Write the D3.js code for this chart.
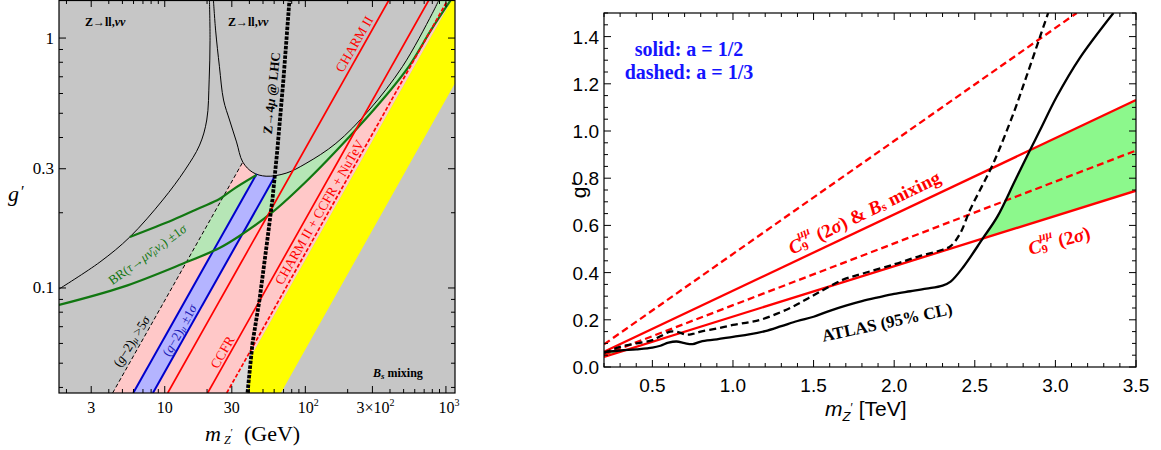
<!DOCTYPE html>
<html><head><meta charset="utf-8">
<script src="https://cdn.jsdelivr.net/npm/d3@7"></script>
<style>body{margin:0;background:#fff}svg{display:block}</style>
</head><body>
<svg id="chart" width="1161" height="450"></svg>
<script>
// ================= LEFT PANEL DATA (m_Z' in GeV, g') =================
const leftXTickValues = [3, 10, 30, 100, 300, 1000];
const leftXTickLabels = ["3", "10", "30", "10^2", "3×10^2", "10^3"];
const leftYTickValues = [0.1, 0.3, 1];
const leftYTickLabels = ["0.1", "0.3", "1"];

// Z -> ll, nu nu exclusion curves
const zCurveLeft = [[1.77,0.099],[3.46,0.127],[5.65,0.160],[9.68,0.225],[13.9,0.296],[17.7,0.373],[19.9,0.47],[20.7,0.68],[21.0,0.98],[20.8,1.42]];
const zCurveU = [[22.2,1.42],[23.0,1.076],[24.5,0.768],[26.2,0.565],[28.9,0.470],[32.4,0.384],[35.9,0.319],[42.3,0.290],[52.6,0.280],[73.0,0.288],[101,0.315],[165,0.379],[284,0.515],[490,0.768],[800,1.255],[891,1.42]];
// BR(tau -> mu nu nu) +-1 sigma band
const brUpper = [[5.65,0.160],[11.4,0.187],[17.7,0.209],[24.5,0.227],[30.3,0.247],[44.9,0.283]];
const brLower = [[1.77,0.0855],[5.04,0.101],[13.4,0.125],[24.5,0.1445],[34.0,0.1614],[58.3,0.201],[107,0.275],[205,0.402],[352,0.565],[547,0.773],[783,1.076],[1084,1.42]];
// (g-2)_mu
const g2Dashed5Sigma = [[4.26,0.038],[35.9,0.319]];
const g2BandLeft = [[5.97,0.038],[45.0,0.286]];
const g2BandRight = [[8.24,0.038],[61.0,0.281]];
// neutrino trident
const charmII = [[10.5,0.038],[393,1.42]];
const ccfr = [[20.2,0.038],[756,1.42]];
const combinedDashed = [[27.6,0.038],[1030,1.42]];
// LHC Z -> 4 mu
const lhcZ4mu = [[38.8,0.0381],[42.1,0.0603],[47.2,0.0895],[53.7,0.156],[58.3,0.225],[63.2,0.356],[69.8,0.679],[77.1,1.42]];
const lhcGapPatch = [[27.6,0.038],[41.7,0.0572],[38.8,0.038]];
// yellow (B_s mixing allowed) band
const yellowLeft = [[38.8,0.0381],[41.2,0.0535],[1100,1.42]];
const yellowRight = [[67,0.038],[1160,0.66]];

// ================= RIGHT PANEL DATA (m_Z' in TeV, g') =================
const rightXTickValues = [0.5, 1.0, 1.5, 2.0, 2.5, 3.0, 3.5];
const rightXTickLabels = ["0.5", "1.0", "1.5", "2.0", "2.5", "3.0", "3.5"];
const rightYTickValues = [0, 0.2, 0.4, 0.6, 0.8, 1.0, 1.2, 1.4];
const rightYTickLabels = ["0.0", "0.2", "0.4", "0.6", "0.8", "1.0", "1.2", "1.4"];

const c9BsSolid = [[0.2,0.065],[3.5,1.131]];
const c9Solid = [[0.2,0.043],[3.5,0.747]];
const c9BsDashed = [[0.2,0.096],[3.132,1.5]];
const c9Dashed = [[0.2,0.052],[3.5,0.917]];
const atlasSolid = [[0.2,0.063],[0.3,0.07],[0.4,0.075],[0.5,0.082],[0.55,0.09],[0.6,0.103],[0.65,0.108],[0.7,0.101],[0.75,0.097],[0.8,0.108],[0.9,0.117],[1.0,0.128],[1.1,0.138],[1.2,0.152],[1.3,0.173],[1.4,0.195],[1.5,0.213],[1.6,0.238],[1.7,0.26],[1.8,0.279],[1.9,0.295],[2.0,0.31],[2.1,0.321],[2.2,0.332],[2.3,0.345],[2.35,0.362],[2.43,0.425],[2.55,0.545],[2.64,0.637],[2.75,0.79],[2.843,0.919],[2.905,1.004],[3.008,1.145],[3.15,1.308],[3.36,1.5]];
const atlasDashed = [[0.2,0.06],[0.3,0.085],[0.4,0.1],[0.5,0.114],[0.55,0.13],[0.61,0.15],[0.66,0.148],[0.71,0.137],[0.75,0.14],[0.8,0.15],[0.9,0.163],[1.0,0.178],[1.1,0.19],[1.17,0.2],[1.27,0.225],[1.37,0.255],[1.45,0.285],[1.54,0.319],[1.68,0.369],[1.8,0.395],[2.0,0.435],[2.15,0.468],[2.3,0.497],[2.35,0.512],[2.41,0.567],[2.47,0.665],[2.54,0.76],[2.615,0.863],[2.74,1.075],[2.82,1.23],[2.905,1.4],[2.955,1.5]];

// ================= DRAWING =================
const SERIF = "'Liberation Serif','Times New Roman',serif";
const SANS = "'Liberation Sans',Arial,Helvetica,sans-serif";
const svg = d3.select("#chart");
const defs = svg.append("defs");

function richText(parent, x, y, angle, parts, opt) {
  const t = parent.append("text")
    .attr("transform", `translate(${x},${y}) rotate(${angle})`)
    .attr("text-anchor", opt.anchor || "middle")
    .attr("font-family", opt.family || SERIF)
    .attr("font-size", opt.size || 13)
    .attr("fill", opt.fill || "#000")
    .attr("font-weight", opt.weight || "normal");
  if (opt.center) t.attr("dominant-baseline", "central");
  parts.forEach(p => {
    const s = t.append("tspan").text(p.t);
    if (p.dx !== undefined) s.attr("dx", p.dx);
    if (p.dy !== undefined) s.attr("dy", p.dy);
    if (p.size) s.attr("font-size", p.size);
    if (p.it) s.attr("font-style", "italic");
  });
  return t;
}

// ---------- LEFT PANEL ----------
const L = {x0: 59, x1: 455, y0: 0, y1: 393};
const xL = d3.scaleLog().domain([1.77, 1160]).range([L.x0, L.x1]);
const yL = d3.scaleLog().domain([0.038, 1.42]).range([L.y1, L.y0]);
const lineL = d3.line().x(d => xL(d[0])).y(d => yL(d[1]));
const curveL = d3.line().x(d => xL(d[0])).y(d => yL(d[1])).curve(d3.curveCatmullRom.alpha(0.5));

function joinPath(parts) {
  let d = "";
  parts.forEach((p, i) => {
    let s = (p.curve ? curveL : lineL)(p.pts);
    if (i > 0) s = "L" + s.slice(1);
    d += s;
  });
  return d + "Z";
}

defs.append("clipPath").attr("id", "clipL").append("rect")
  .attr("x", L.x0).attr("y", L.y0).attr("width", L.x1 - L.x0).attr("height", L.y1 - L.y0);

const uRight = zCurveU.filter(d => d[0] >= 35.9);
const pinkPath = joinPath([
  {pts: g2Dashed5Sigma},
  {pts: uRight, curve: true},
  {pts: [yellowLeft[2], yellowLeft[1], yellowLeft[0]]}
]);
defs.append("clipPath").attr("id", "clipPink").append("path").attr("d", pinkPath);

const gL = svg.append("g").attr("clip-path", "url(#clipL)");
gL.append("rect").attr("x", L.x0).attr("y", L.y0).attr("width", L.x1 - L.x0).attr("height", L.y1 - L.y0).attr("fill", "#c6c6c6");
gL.append("path").attr("d", pinkPath).attr("fill", "#ffc8c8");
gL.append("path").attr("d", lineL(lhcGapPatch) + "Z").attr("fill", "#dcdcdc");

const inPink = gL.append("g").attr("clip-path", "url(#clipPink)");
const greenPath = joinPath([
  {pts: brUpper, curve: true},
  {pts: zCurveU.filter(d => d[0] > 44.9), curve: true},
  {pts: brLower.slice().reverse(), curve: true}
]);
inPink.append("path").attr("d", greenPath).attr("fill", "#b6e6b6");
inPink.append("path").attr("d", lineL(g2BandLeft.concat(g2BandRight.slice().reverse())) + "Z").attr("fill", "#b4b4ff");

// yellow band
gL.append("path").attr("d", lineL(yellowLeft.concat([[1160,1.42]], yellowRight.slice().reverse())) + "Z").attr("fill", "#ffff00");

// curves
gL.append("path").attr("d", curveL(zCurveLeft)).attr("fill", "none").attr("stroke", "#000").attr("stroke-width", 1);
gL.append("path").attr("d", curveL(zCurveU)).attr("fill", "none").attr("stroke", "#000").attr("stroke-width", 1);
gL.append("path").attr("d", lineL(g2Dashed5Sigma)).attr("fill", "none").attr("stroke", "#000").attr("stroke-width", 1).attr("stroke-dasharray", "4,2.5");
[g2BandLeft, g2BandRight].forEach(s => gL.append("path").attr("d", lineL(s)).attr("fill", "none").attr("stroke", "#0000cc").attr("stroke-width", 2));
gL.append("path").attr("d", curveL(brUpper)).attr("fill", "none").attr("stroke", "#117711").attr("stroke-width", 2.2);
gL.append("path").attr("d", curveL(brLower)).attr("fill", "none").attr("stroke", "#117711").attr("stroke-width", 2.2);
[charmII, ccfr].forEach(s => gL.append("path").attr("d", lineL(s)).attr("fill", "none").attr("stroke", "#ff0000").attr("stroke-width", 1.7));
gL.append("path").attr("d", lineL(combinedDashed)).attr("fill", "none").attr("stroke", "#ff0000").attr("stroke-width", 1.7).attr("stroke-dasharray", "4,2");
gL.append("path").attr("d", lineL(lhcZ4mu)).attr("fill", "none").attr("stroke", "#000").attr("stroke-width", 3.8).attr("stroke-dasharray", "3.5,1.3");

// labels inside left panel
richText(gL, 85, 26, 0, [{t: "Z→ll,"}, {t: "νν", it: true}], {anchor: "start", size: 12, weight: "bold"});
richText(gL, 228, 26, 0, [{t: "Z→ll,"}, {t: "νν", it: true}], {anchor: "start", size: 12, weight: "bold"});
richText(gL, 354, 44, -60, [{t: "CHARM II"}], {size: 13.5, fill: "#ff0000", center: true});
richText(gL, 319, 212, -60, [{t: "CHARM II + CCFR + NuTeV"}], {size: 13.5, fill: "#ff0000", center: true});
richText(gL, 222, 352, -60, [{t: "CCFR"}], {size: 13.5, fill: "#ff0000", center: true});
richText(gL, 179, 330, -61, [{t: "("}, {t: "g", it: true}, {t: "−2)"}, {t: "μ", it: true, size: 9, dy: 3}, {t: " ±1", dy: -3}, {t: "σ", it: true}], {size: 13, fill: "#1a1ab4", center: true});
richText(gL, 131, 341, -58, [{t: "("}, {t: "g", it: true}, {t: "−2)"}, {t: "μ", it: true, size: 9, dy: 3}, {t: " >5", dy: -3}, {t: "σ", it: true}], {size: 13, fill: "#000", center: true});
richText(gL, 147, 254, -36, [{t: "BR("}, {t: "τ", it: true}, {t: "→"}, {t: "μν̄", it: true}, {t: "μ", it: true, size: 9, dy: 3}, {t: "ν", it: true, dy: -3}, {t: "τ", it: true, size: 9, dy: 3}, {t: ") ±1", dy: -3}, {t: "σ", it: true}], {size: 13, fill: "#117711", center: true});
richText(gL, 271, 93, -84, [{t: "Z→4"}, {t: "μ", it: true}, {t: " @ LHC"}], {size: 13, weight: "bold", center: true});
richText(gL, 373, 377, 0, [{t: "B", it: true}, {t: "s", it: true, size: 9, dy: 2}, {t: " mixing", dy: -2}], {anchor: "start", size: 12, weight: "bold"});

// frame, ticks
const axL = svg.append("g");
axL.append("rect").attr("x", L.x0).attr("y", L.y0 + 0.5).attr("width", L.x1 - L.x0).attr("height", L.y1 - L.y0 - 0.5).attr("fill", "none").attr("stroke", "#000").attr("stroke-width", 1.2);
xL.ticks().filter(v => v >= 1.77 && v <= 1160).forEach(v => {
  const x = xL(v), len = leftXTickValues.includes(v) ? 7 : 4;
  axL.append("line").attr("x1", x).attr("x2", x).attr("y1", L.y1).attr("y2", L.y1 - len).attr("stroke", "#000");
  axL.append("line").attr("x1", x).attr("x2", x).attr("y1", L.y0).attr("y2", L.y0 + len).attr("stroke", "#000");
});
yL.ticks().filter(v => v >= 0.038 && v <= 1.42).forEach(v => {
  const y = yL(v), len = leftYTickValues.includes(v) ? 7 : 4;
  axL.append("line").attr("x1", L.x0).attr("x2", L.x0 + len).attr("y1", y).attr("y2", y).attr("stroke", "#000");
  axL.append("line").attr("x1", L.x1).attr("x2", L.x1 - len).attr("y1", y).attr("y2", y).attr("stroke", "#000");
});
leftXTickValues.forEach((v, i) => {
  const [base, exp] = leftXTickLabels[i].split("^");
  const parts = [{t: base}];
  if (exp) parts.push({t: exp, size: 10, dy: -7});
  richText(axL, xL(v) + (exp ? 3 : 0), 413, 0, parts, {size: 16});
});
leftYTickValues.forEach((v, i) => {
  richText(axL, 54, yL(v) + 5.5, 0, [{t: leftYTickLabels[i]}], {anchor: "end", size: 17});
});
richText(axL, 8, 201, 0, [{t: "g", it: true}, {t: "′", dx: 2, dy: -4, size: 16}], {anchor: "start", size: 22});
richText(axL, 205, 441, 0, [{t: "m", it: true}, {t: "Z", it: true, size: 12, dx: 3, dy: 3}, {t: "′", size: 11, dy: -8}, {t: "(GeV)", dx: 11, dy: 5}], {anchor: "start", size: 22});

// ---------- RIGHT PANEL ----------
const R = {x0: 604, x1: 1136, y0: 13, y1: 367};
const xR = d3.scaleLinear().domain([0.2, 3.5]).range([R.x0, R.x1]);
const yR = d3.scaleLinear().domain([0, 1.5]).range([R.y1, R.y0]);
const lineR = d3.line().x(d => xR(d[0])).y(d => yR(d[1]));
const curveR = d3.line().x(d => xR(d[0])).y(d => yR(d[1])).curve(d3.curveCatmullRom.alpha(0.5));

defs.append("clipPath").attr("id", "clipR").append("rect")
  .attr("x", R.x0).attr("y", R.y0).attr("width", R.x1 - R.x0).attr("height", R.y1 - R.y0);
defs.append("clipPath").attr("id", "clipAtlas").append("path")
  .attr("d", curveR(atlasSolid) + "L" + xR(3.5) + "," + yR(1.5) + "L" + xR(3.5) + "," + yR(0) + "L" + xR(0.2) + "," + yR(0) + "Z");

const gR = svg.append("g").attr("clip-path", "url(#clipR)");
gR.append("g").attr("clip-path", "url(#clipAtlas)").append("path")
  .attr("d", lineR(c9BsSolid.concat(c9Solid.slice().reverse())) + "Z").attr("fill", "#8cf88c");
[c9BsSolid, c9Solid].forEach(s => gR.append("path").attr("d", lineR(s)).attr("fill", "none").attr("stroke", "#ff0000").attr("stroke-width", 2.3));
[c9BsDashed, c9Dashed].forEach(s => gR.append("path").attr("d", lineR(s)).attr("fill", "none").attr("stroke", "#ff0000").attr("stroke-width", 2.3).attr("stroke-dasharray", "7,4"));
gR.append("path").attr("d", curveR(atlasDashed)).attr("fill", "none").attr("stroke", "#000").attr("stroke-width", 2.3).attr("stroke-dasharray", "7,4");
gR.append("path").attr("d", curveR(atlasSolid)).attr("fill", "none").attr("stroke", "#000").attr("stroke-width", 2.3);

richText(gR, 689, 56, 0, [{t: "solid: a = 1/2"}], {size: 20, weight: "bold", fill: "#1414ff"});
richText(gR, 689, 79, 0, [{t: "dashed: a = 1/3"}], {size: 20, weight: "bold", fill: "#1414ff"});
richText(gR, 864, 212, -26, [{t: "C", it: true}, {t: "9", size: 12, dy: 5}, {t: "μμ", it: true, size: 12, dx: -6, dy: -13}, {t: " (2", dy: 8}, {t: "σ", it: true}, {t: ") & "}, {t: "B", it: true}, {t: "s", size: 12, dy: 4}, {t: " mixing", dy: -4}], {size: 19, weight: "bold", fill: "#ff0000", center: true});
richText(gR, 1059, 240, -15, [{t: "C", it: true}, {t: "9", size: 12, dy: 5}, {t: "μμ", it: true, size: 12, dx: -6, dy: -13}, {t: " (2", dy: 8}, {t: "σ", it: true}, {t: ")"}], {size: 19, weight: "bold", fill: "#ff0000", center: true});
richText(gR, 887, 322, -12, [{t: "ATLAS (95% CL)"}], {size: 17, weight: "bold", center: true});

const axR = svg.append("g");
axR.append("rect").attr("x", R.x0).attr("y", R.y0).attr("width", R.x1 - R.x0).attr("height", R.y1 - R.y0).attr("fill", "none").attr("stroke", "#000").attr("stroke-width", 1.2);
d3.ticks(0.2, 3.5, 33).forEach(v => {
  const x = xR(v), major = Math.abs(v * 2 - Math.round(v * 2)) < 1e-6, len = major ? 7 : 4;
  axR.append("line").attr("x1", x).attr("x2", x).attr("y1", R.y1).attr("y2", R.y1 - len).attr("stroke", "#000");
  axR.append("line").attr("x1", x).attr("x2", x).attr("y1", R.y0).attr("y2", R.y0 + len).attr("stroke", "#000");
});
d3.ticks(0, 1.5, 30).forEach(v => {
  const y = yR(v), major = Math.abs(v * 5 - Math.round(v * 5)) < 1e-6, len = major ? 7 : 4;
  axR.append("line").attr("x1", R.x0).attr("x2", R.x0 + len).attr("y1", y).attr("y2", y).attr("stroke", "#000");
  axR.append("line").attr("x1", R.x1).attr("x2", R.x1 - len).attr("y1", y).attr("y2", y).attr("stroke", "#000");
});
rightXTickValues.forEach((v, i) => richText(axR, xR(v), 392, 0, [{t: rightXTickLabels[i]}], {family: SANS, size: 19}));
rightYTickValues.forEach((v, i) => richText(axR, 599, yR(v) + 7, 0, [{t: rightYTickLabels[i]}], {family: SANS, size: 19, anchor: "end"}));
richText(axR, 586, 190, -90, [{t: "g"}, {t: "′", dx: 1}], {family: SANS, size: 21});
richText(axR, 825, 416, 0, [{t: "m", it: true}, {t: "Z", it: true, size: 13, dy: 5}, {t: "′", size: 12, dy: -9}, {t: "[TeV]", dx: 6, dy: 4}], {family: SANS, size: 21, anchor: "start"});
</script>
</body></html>
